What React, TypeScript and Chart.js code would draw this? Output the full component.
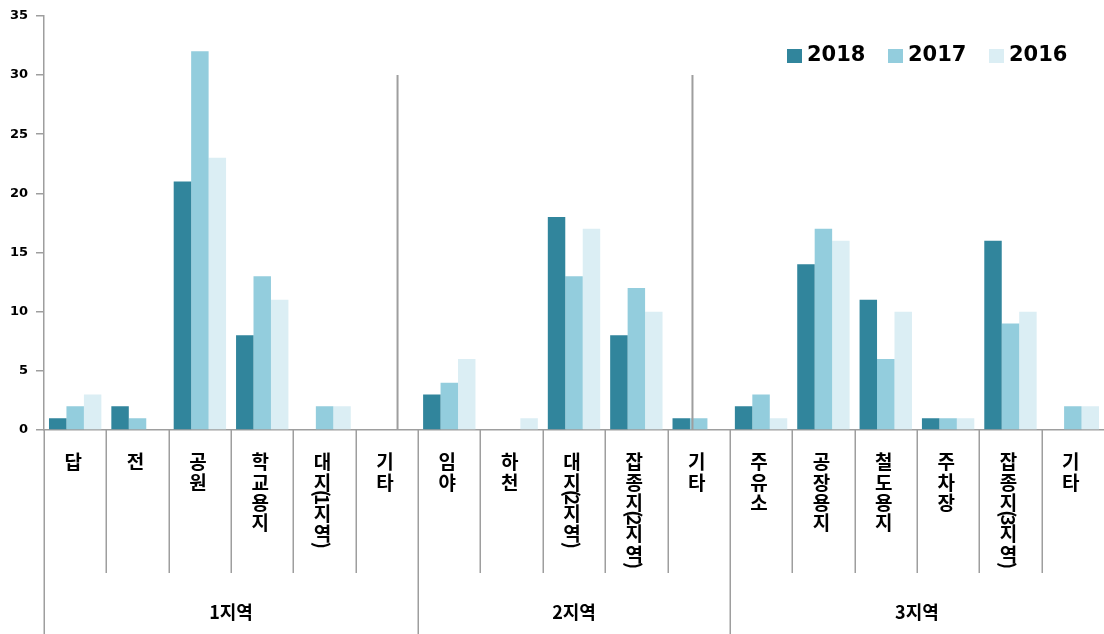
import React, { useEffect, useRef } from "react";
import { Chart, registerables } from "chart.js";

Chart.register(...registerables);

const categories = [
  "답", "전", "공원", "학교용지", "대지(1지역)", "기타",
  "임야", "하천", "대지(2지역)", "잡종지(2지역)", "기타",
  "주유소", "공장용지", "철도용지", "주차장", "잡종지(3지역)", "기타",
];
const groupLabels = ["1지역", "2지역", "3지역"];
const groupSizes = [6, 5, 6];
const seriesNames = ["2018", "2017", "2016"];
const values2018 = [1, 2, 21, 8, 0, 0, 3, 0, 18, 8, 1, 2, 14, 11, 1, 16, 0];
const values2017 = [2, 1, 32, 13, 2, 0, 4, 0, 13, 12, 1, 3, 17, 6, 1, 9, 2];
const values2016 = [3, 0, 23, 11, 2, 0, 6, 1, 17, 10, 0, 1, 16, 10, 1, 10, 2];
const seriesColors = ["#31859c", "#93cddd", "#dbeef4"];
const yTicks = [0, 5, 10, 15, 20, 25, 30, 35];
// decorative divider lines (category-axis value positions) and their top value
const dividerPositions = [5.17, 9.9];
const dividerTop = 30;

const GRAY = "#9e9e9e";
const LABEL_FONT = 'bold 19px "Noto Sans CJK KR"';
const GROUP_FONT = 'bold 18px "Noto Sans CJK KR"';
const LEGEND_FONT = 'bold 21px "DejaVu Sans"';

const isHangul = (ch: string) => /[\u3131-\uD79D]/.test(ch);

const customPlugin = {
  id: "customDraw",
  afterDatasetsDraw(chart: any) {
    const { ctx } = chart;
    const x = chart.scales.x;
    const y = chart.scales.y;
    ctx.save();
    ctx.strokeStyle = GRAY;
    ctx.lineWidth = 2;
    dividerPositions.forEach((p) => {
      const w = (x.right - x.left) / categories.length;
      const px = x.getPixelForValue(Math.floor(p)) + (p - Math.floor(p)) * w;
      ctx.beginPath();
      ctx.moveTo(px, y.getPixelForValue(dividerTop));
      ctx.lineTo(px, y.getPixelForValue(0));
      ctx.stroke();
    });
    ctx.restore();
  },
  afterDraw(chart: any) {
    const { ctx, height } = chart;
    const x = chart.scales.x;
    const area = chart.chartArea;
    const n = categories.length;
    const w = (x.right - x.left) / n;
    ctx.save();

    // separators below the axis
    const groupEnds = new Set<number>();
    let acc = 0;
    groupSizes.forEach((s) => {
      acc += s;
      groupEnds.add(acc);
    });
    ctx.strokeStyle = GRAY;
    ctx.lineWidth = 1.5;
    for (let i = 0; i < n; i++) {
      const px = Math.round(x.left + i * w) + 0.25;
      let bottom = area.bottom + 143;
      if (i === 0 || groupEnds.has(i)) bottom = height;
      ctx.beginPath();
      ctx.moveTo(px, area.bottom);
      ctx.lineTo(px, bottom);
      ctx.stroke();
    }

    // category labels, vertical stacked text
    ctx.fillStyle = "#000";
    ctx.font = LABEL_FONT;
    categories.forEach((label, i) => {
      const cx = x.getPixelForValue(i) - 2;
      let cy = area.bottom + 22;
      for (const ch of Array.from(label)) {
        if (isHangul(ch)) {
          ctx.textAlign = "center";
          ctx.textBaseline = "middle";
          ctx.fillText(ch, cx, cy + 10);
          cy += 20.4;
        } else {
          const m = ctx.measureText(ch).width;
          ctx.save();
          ctx.translate(cx, cy - 3);
          ctx.rotate(Math.PI / 2);
          ctx.textAlign = "left";
          ctx.textBaseline = "middle";
          ctx.fillText(ch, 0, 0);
          ctx.restore();
          cy += m * 0.6;
        }
      }
    });

    // group labels
    ctx.font = GROUP_FONT;
    ctx.textAlign = "center";
    ctx.textBaseline = "middle";
    let start = 0;
    groupLabels.forEach((g, gi) => {
      const end = start + groupSizes[gi];
      const cx = x.left + ((start + end) / 2) * w;
      ctx.fillText(g, cx, area.bottom + 182);
      start = end;
    });

    // legend
    const legendX = [787, 888, 989];
    ctx.font = LEGEND_FONT;
    ctx.textAlign = "left";
    ctx.textBaseline = "middle";
    seriesNames.forEach((name, i) => {
      ctx.fillStyle = seriesColors[i];
      ctx.fillRect(legendX[i], 49, 15, 14);
      ctx.fillStyle = "#000";
      ctx.fillText(name, legendX[i] + 20, 56);
    });
    ctx.restore();
  },
};

export default function App() {
  const ref = useRef<HTMLCanvasElement | null>(null);
  useEffect(() => {
    if (!ref.current) return;
    const chart = new Chart(ref.current, {
      type: "bar",
      data: {
        labels: categories,
        datasets: [values2018, values2017, values2016].map((d, i) => ({
          label: seriesNames[i],
          data: d,
          backgroundColor: seriesColors[i],
          borderWidth: 0,
          barPercentage: 1,
          categoryPercentage: 0.84,
        })),
      },
      options: {
        responsive: false,
        animation: false,
        devicePixelRatio: 1,
        layout: { padding: { top: 14, left: 0, right: 0, bottom: 0 } },
        plugins: { legend: { display: false }, tooltip: { enabled: false } },
        scales: {
          x: {
            grid: { display: false },
            ticks: { display: false },
            border: { display: true, color: GRAY, width: 1.5 },
            afterFit: (s: any) => {
              s.height = 204;
            },
          },
          y: {
            min: 0,
            max: 35,
            afterBuildTicks: (s: any) => {
              s.ticks = yTicks.map((v) => ({ value: v }));
            },
            grid: { drawOnChartArea: false, drawTicks: true, tickLength: 8, color: GRAY, lineWidth: 1.5 },
            border: { display: true, color: GRAY, width: 1.5 },
            ticks: {
              padding: 8,
              color: "#000",
              font: { family: "DejaVu Sans", weight: "bold", size: 13 },
            },
            afterFit: (s: any) => {
              s.width = 44;
            },
          },
        },
      },
      plugins: [customPlugin],
    });
    return () => chart.destroy();
  }, []);
  return (
    <div style={{ position: "absolute", left: 0, top: 0, width: 1104, height: 634, background: "#fff" }}>
      <canvas ref={ref} width={1104} height={634} />
    </div>
  );
}
